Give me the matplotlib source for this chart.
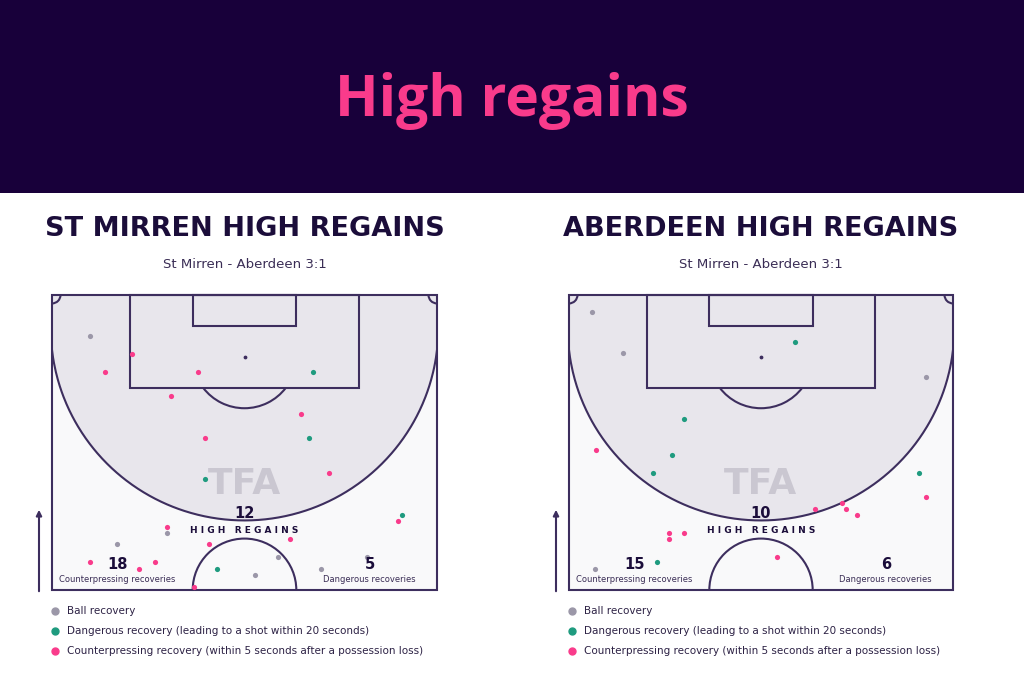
import numpy as np
import matplotlib
matplotlib.use("Agg")
import matplotlib.pyplot as plt
from matplotlib.patches import Rectangle, Arc

W, H = 1024, 683

# pitch coordinates in metres: x across (0-68), y from halfway line (0) to goal line (52.5)
teams = ["ST MIRREN HIGH REGAINS", "ABERDEEN HIGH REGAINS"]
match = "St Mirren - Aberdeen 3:1"
high_regains = [12, 10]
counterpress_totals = [18, 15]
dangerous_totals = [5, 6]

# St Mirren
sm_ball_x = [6.7, 20.3, 11.4, 39.9, 35.9, 47.5, 55.7]
sm_ball_y = [45.2, 10.2, 8.1, 5.9, 2.7, 3.8, 5.9]
sm_danger_x = [46.1, 45.4, 27.1, 61.8, 29.1]
sm_danger_y = [38.8, 27.1, 19.8, 13.4, 3.8]
sm_counter_x = [14.1, 9.4, 25.7, 21.0, 44.0, 27.1, 48.9, 61.1, 20.3, 27.7, 42.0, 6.7, 15.4, 18.2, 25.0]
sm_counter_y = [42.0, 38.8, 38.8, 34.6, 31.4, 27.1, 20.8, 12.3, 11.3, 8.1, 9.1, 4.9, 3.8, 4.9, 0.6]

# Aberdeen
ab_ball_x = [4.0, 9.5, 63.3, 4.6]
ab_ball_y = [49.4, 42.1, 37.9, 3.8]
ab_danger_x = [40.1, 20.4, 18.3, 14.9, 62.0, 15.6]
ab_danger_y = [44.2, 30.4, 24.0, 20.8, 20.8, 4.9]
ab_counter_x = [4.7, 63.3, 43.6, 48.3, 49.1, 51.0, 17.7, 20.4, 17.7, 36.8]
ab_counter_y = [25.0, 16.6, 14.4, 15.5, 14.4, 13.4, 10.2, 10.2, 9.1, 5.9]

legend_labels = ["Ball recovery",
                 "Dangerous recovery (leading to a shot within 20 seconds)",
                 "Counterpressing recovery (within 5 seconds after a possession loss)"]

BANNER = "#18003a"
PINK = "#f93b8b"
TEAL = "#1f9b7f"
GREY = "#9b97a8"
LINE = "#3d2e5e"
DARK = "#1b0d3a"
SHADE = "#e8e6ec"
OUTER = "#f9f9fa"


def fx(px):
    return px / W


def fy(py):
    return 1 - py / H


def draw_pitch(ax):
    lw = 1.5
    ax.add_patch(Rectangle((0, 0), 68, 52.5, facecolor=OUTER, edgecolor="none", zorder=0))
    # high regain zone
    xc, yc, r = 34, 46.6, 34.22
    xs = np.linspace(0, 68, 400)
    arc_y = yc - np.sqrt(np.clip(r**2 - (xs - xc)**2, 0, None))
    ax.fill_between(xs, arc_y, 52.5, color=SHADE, lw=0, zorder=1)
    ax.plot(xs, arc_y, color=LINE, lw=lw, zorder=2)
    # lines
    kw = dict(fill=False, edgecolor=LINE, lw=lw, zorder=3, clip_on=False)
    ax.add_patch(Rectangle((0, 0), 68, 52.5, **kw))
    ax.add_patch(Rectangle((34 - 20.16, 52.5 - 16.5), 40.32, 16.5, **kw))
    ax.add_patch(Rectangle((34 - 9.16, 52.5 - 5.5), 18.32, 5.5, **kw))
    a = np.degrees(np.arcsin(5.5 / 9.15))
    ax.add_patch(Arc((34, 41.5), 18.3, 18.3, theta1=180 + a, theta2=360 - a, color=LINE, lw=lw, zorder=3))
    ax.add_patch(Arc((34, 0), 18.3, 18.3, theta1=0, theta2=180, color=LINE, lw=lw, zorder=3))
    ax.add_patch(Arc((0, 52.5), 3, 3, theta1=270, theta2=360, color=LINE, lw=lw, zorder=3))
    ax.add_patch(Arc((68, 52.5), 3, 3, theta1=180, theta2=270, color=LINE, lw=lw, zorder=3))
    ax.scatter([34], [41.5], s=3, color=LINE, zorder=3)
    ax.set_xlim(0, 68)
    ax.set_ylim(0, 52.5)
    ax.axis("off")


fig = plt.figure(figsize=(W / 100, H / 100), dpi=100)
fig.patch.set_facecolor("white")
fig.patches.append(Rectangle((0, fy(193)), 1, 1 - fy(193), transform=fig.transFigure,
                             facecolor=BANNER, edgecolor="none", zorder=0))
fig.text(0.5, fy(101), "High regains", color=PINK, fontsize=41, fontweight="bold",
         family="Open Sans", ha="center", va="center")

pitches = [
    (52, 385, sm_ball_x, sm_ball_y, sm_danger_x, sm_danger_y, sm_counter_x, sm_counter_y),
    (569, 384, ab_ball_x, ab_ball_y, ab_danger_x, ab_danger_y, ab_counter_x, ab_counter_y),
]

for i, (left, width, bx, by, dx, dy, cx, cy) in enumerate(pitches):
    ax = fig.add_axes([fx(left), fy(590), width / W, 295 / H])
    draw_pitch(ax)
    mid = left + width / 2

    fig.text(fx(mid), fy(229), teams[i], color=DARK, fontsize=19.5, fontweight="bold",
             ha="center", va="center")
    fig.text(fx(mid), fy(265), match, color="#3a2d55", fontsize=9.5, ha="center", va="center")

    ax.text(34, 18.9, "TFA", color="#cac7d1", fontsize=26, fontweight="bold",
            ha="center", va="center", zorder=2)
    ax.text(34, 13.7, str(high_regains[i]), color=DARK, fontsize=10.5, fontweight="bold",
            ha="center", va="center", zorder=5)
    ax.text(34, 10.6, "H I G H   R E G A I N S", color=DARK, fontsize=6.5, fontweight="bold",
            ha="center", va="center", zorder=5)
    ax.text(11.6, 4.6, str(counterpress_totals[i]), color=DARK, fontsize=10.5, fontweight="bold",
            ha="center", va="center", zorder=5)
    ax.text(11.6, 1.9, "Counterpressing recoveries", color="#3a2d55", fontsize=6,
            ha="center", va="center", zorder=5)
    ax.text(56.1, 4.6, str(dangerous_totals[i]), color=DARK, fontsize=10.5, fontweight="bold",
            ha="center", va="center", zorder=5)
    ax.text(56.1, 1.9, "Dangerous recoveries", color="#3a2d55", fontsize=6,
            ha="center", va="center", zorder=5)

    ax.scatter(bx, by, s=14, color=GREY, lw=0, zorder=4)
    ax.scatter(dx, dy, s=14, color=TEAL, lw=0, zorder=4)
    ax.scatter(cx, cy, s=14, color=PINK, lw=0, zorder=4)

    # direction arrow
    ax.annotate("", xy=(fx(left - 13), fy(507)), xytext=(fx(left - 13), fy(594)),
                xycoords="figure fraction", textcoords="figure fraction",
                arrowprops=dict(arrowstyle="-|>", color=LINE, lw=1.5, mutation_scale=8))

    # legend
    for j, (lab, col) in enumerate(zip(legend_labels, [GREY, TEAL, PINK])):
        yy = fy(611 + 20 * j)
        fig.lines.append(plt.Line2D([fx(left + 3)], [yy], marker="o", markersize=5, color=col,
                                    lw=0, transform=fig.transFigure))
        fig.text(fx(left + 15), yy, lab, color="#2d2245", fontsize=7.5, ha="left", va="center")

fig.savefig("out.png", dpi=100)
